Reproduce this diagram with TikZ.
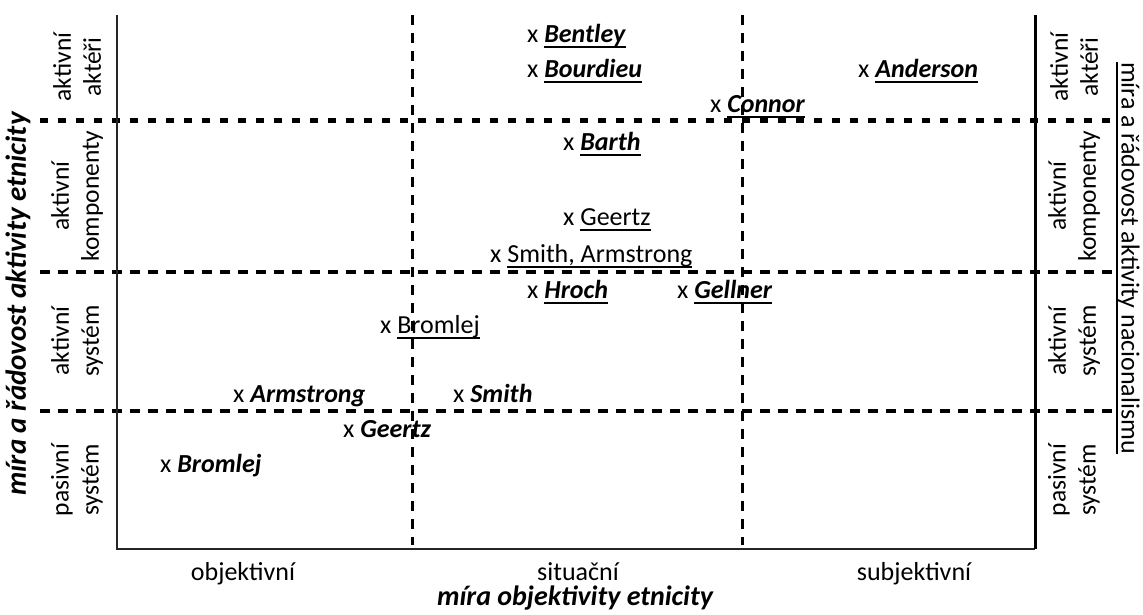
\documentclass[tikz,border=0pt]{standalone}
\usepackage{fontspec}
\setmainfont{Carlito}
% underline drawn a few points below the baseline, spanning the word
\newcommand\nameul[1]{\setbox0=\hbox{#1}\rlap{\rule[-5.5pt]{\wd0}{1.9pt}}\box0}
\newcommand\bi[1]{\textbf{\textit{#1}}}
\begin{document}
\begin{tikzpicture}[x=1pt,y=-1pt,
  axisline/.style={line width=1.8pt,draw=black!85},
  axisright/.style={line width=3pt,draw=black},
  gridtop/.style={line width=5pt,dash pattern=on 8pt off 10pt},
  gridh/.style={line width=3.5pt,dash pattern=on 10pt off 8pt},
  gridv/.style={line width=3pt,dash pattern=on 10pt off 8pt},
  nm/.style={anchor=base west,inner sep=0pt,font=\fontsize{26}{30}\selectfont},
  rowlab/.style={rotate=90,align=center,inner sep=0pt,font=\fontsize{25.5}{30}\selectfont},
  collab/.style={anchor=base,inner sep=0pt,font=\fontsize{26}{30}\selectfont},
  axtitle/.style={inner sep=0pt,font=\fontsize{29}{32}\selectfont\bfseries\itshape}]
\useasboundingbox (0,0) rectangle (1143,614);

% frame corners
\coordinate (tl) at (117,15);
\coordinate (bl) at (117,549);
\coordinate (br) at (1035,549);
\coordinate (tr) at (1035,15);

% dashed grid
\coordinate (h1a) at (40,120);  \coordinate (h1b) at (1117,120);
\coordinate (h2a) at (40,272);  \coordinate (h2b) at (1117,272);
\coordinate (h3a) at (40,411);  \coordinate (h3b) at (1117,411);
\coordinate (v1a) at (412,15);  \coordinate (v1b) at (412,545);
\coordinate (v2a) at (742,15);  \coordinate (v2b) at (742,545);
\draw[gridtop] (h1a) -- (h1b);
\draw[gridh] (h2a) -- (h2b);
\draw[gridh] (h3a) -- (h3b);
\draw[gridv] (v1a) -- (v1b);
\draw[gridv] (v2a) -- (v2b);

% axes
\draw[axisline] (tl) -- (bl) -- (br);
\draw[axisright] (br) -- (tr);

% row labels, left and right
\node[rowlab] (l1) at (77,67)  {aktivní\\aktéři};
\node[rowlab] (l2) at (77,196) {aktivní\\komponenty};
\node[rowlab] (l3) at (77,341) {aktivní\\systém};
\node[rowlab] (l4) at (77,480) {pasivní\\systém};
\node[rowlab] (r1) at (1074,67)  {aktivní\\aktéři};
\node[rowlab] (r2) at (1074,196) {aktivní\\komponenty};
\node[rowlab] (r3) at (1074,341) {aktivní\\systém};
\node[rowlab] (r4) at (1074,480) {pasivní\\systém};

% axis titles
\node[axtitle,rotate=90] (ytitle) at (18,304) {míra a řádovost aktivity etnicity};
\node[inner sep=0pt,rotate=-90,font=\fontsize{26}{30}\selectfont] (ztitle) at (1128,258)
  {\nameul{míra a řádovost aktivity nacionalismu}};
\node[collab] (c1) at (243,580) {objektivní};
\node[collab] (c2) at (578,580) {situační};
\node[collab] (c3) at (914,580) {subjektivní};
\node[axtitle,anchor=base,font=\fontsize{28}{32}\selectfont\bfseries\itshape] (xtitle) at (575,605) {míra objektivity etnicity};

% authors
\node[nm] (bentley)  at (527,42)  {x \nameul{\bi{Bentley}}};
\node[nm] (bourdieu) at (527,77)  {x \nameul{\bi{Bourdieu}}};
\node[nm] (anderson) at (858,77)  {x \nameul{\bi{Anderson}}};
\node[nm] (connor)   at (710,112) {x \nameul{\bi{Connor}}};
\node[nm] (barth)    at (563,150) {x \nameul{\bi{Barth}}};
\node[nm] (geertzA)  at (563,225) {x \nameul{Geertz}};
\node[nm] (smitharm) at (490,262) {x \nameul{Smith, Armstrong}};
\node[nm] (hroch)    at (527,298) {x \nameul{\bi{Hroch}}};
\node[nm] (gellner)  at (677,298) {x \nameul{\bi{Gellner}}};
\node[nm] (bromlejA) at (380,333) {x \nameul{Bromlej}};
\node[nm] (armstr)   at (233,402) {x \bi{Armstrong}};
\node[nm] (smith)    at (453,402) {x \bi{Smith}};
\node[nm] (geertzB)  at (343,437) {x \bi{Geertz}};
\node[nm] (bromlejB) at (160,472) {x \bi{Bromlej}};
\end{tikzpicture}
\end{document}
